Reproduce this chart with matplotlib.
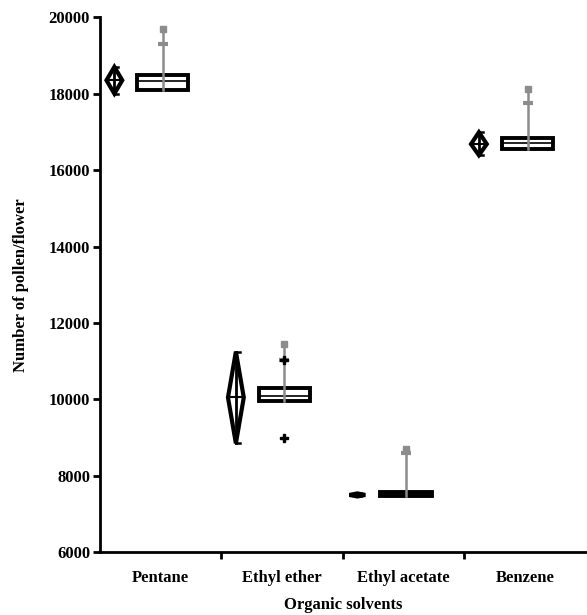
import numpy as np
import matplotlib
matplotlib.use("Agg")
from matplotlib import pyplot as plt

plt.rcParams['font.family'] = ['Liberation Serif', 'DejaVu Serif']
plt.rcParams['font.weight'] = 'bold'
plt.rcParams['axes.labelweight'] = 'bold'

# data
solvents = ["Pentane", "Ethyl ether", "Ethyl acetate", "Benzene"]
# diamond (mean and spread)
diamondMid = [18350, 10050, 7500, 16680]
diamondLow = [18000, 8850, 7460, 16390]
diamondHigh = [18700, 11250, 7540, 16990]
# box summary
q1 = [18100, 9950, 7480, 16540]
median = [18330, 10100, 7530, 16700]
q3 = [18500, 10310, 7580, 16830]
whiskerHigh = [19700, 11450, 8700, 18130]
capMark = [19300, 11020, 8600, 17750]
outliers = [[], [8980, 11020], [], []]

fig = plt.figure(figsize=(5.87, 6.15), dpi=100)
ax = fig.add_axes([0.170, 0.102, 0.828, 0.870])

pos = np.arange(1, len(solvents) + 1)
dOff = -0.38
dHalf = 0.065
bOff = 0.02
bHalf = 0.21

for i, p in enumerate(pos):
    # diamond
    xc = p + dOff
    xs = [xc, xc + dHalf, xc, xc - dHalf, xc]
    ys = [diamondHigh[i], diamondMid[i], diamondLow[i], diamondMid[i], diamondHigh[i]]
    ax.fill(xs, ys, facecolor="white", edgecolor="black", lw=3, joinstyle="miter", zorder=3)
    ax.plot([xc, xc], [diamondLow[i], diamondHigh[i]], color="black", lw=2, zorder=4)
    ax.plot([xc - dHalf * 0.6, xc + dHalf * 0.6], [diamondMid[i], diamondMid[i]], color="black", lw=1.5, zorder=4)
    ax.plot([xc, xc + 0.03], [diamondHigh[i], diamondHigh[i]], color="black", lw=1.8, zorder=4)
    ax.plot([xc, xc + 0.03], [diamondLow[i], diamondLow[i]], color="black", lw=1.8, zorder=4)
    # box
    xb = p + bOff
    ax.fill([xb - bHalf, xb + bHalf, xb + bHalf, xb - bHalf, xb - bHalf],
            [q1[i], q1[i], q3[i], q3[i], q1[i]],
            facecolor="white", edgecolor="black", lw=2.8, zorder=3)
    ax.plot([xb - bHalf, xb + bHalf], [median[i], median[i]], color="black", lw=1.2, zorder=3)
    # whisker
    ax.plot([xb, xb], [q1[i], whiskerHigh[i]], color="#8c8c8c", lw=1.8, zorder=5)
    ax.plot([xb], [whiskerHigh[i]], marker="s", color="#8c8c8c", ms=5, zorder=5)
    ax.plot([xb], [capMark[i]], marker="_", color="#8c8c8c", ms=7, mew=3, zorder=5)
    for o in outliers[i]:
        ax.plot([xb], [o], marker="P", color="black", ms=6, zorder=6)

ax.set_xlim(0.5, 4.5)
ax.set_ylim(6000, 20000)
ax.set_yticks(np.arange(6000, 20001, 2000))
ax.set_xticks(pos)
ax.set_xticklabels(solvents)
ax.set_xticks(np.arange(1.5, 4.5, 1), minor=True)
ax.tick_params(axis="x", which="major", length=0, labelsize=12, pad=13)
ax.tick_params(axis="x", which="minor", length=5, width=2, direction="out")
ax.tick_params(axis="y", length=5, width=2, labelsize=12, pad=2)

for s in ["top", "right"]:
    ax.spines[s].set_visible(False)
for s in ["left", "bottom"]:
    ax.spines[s].set_linewidth(2)

ax.set_xlabel("Organic solvents", fontsize=12, labelpad=8)
ax.set_ylabel("Number of pollen/flower", fontsize=12, labelpad=14)

fig.savefig("out.png", dpi=100)
